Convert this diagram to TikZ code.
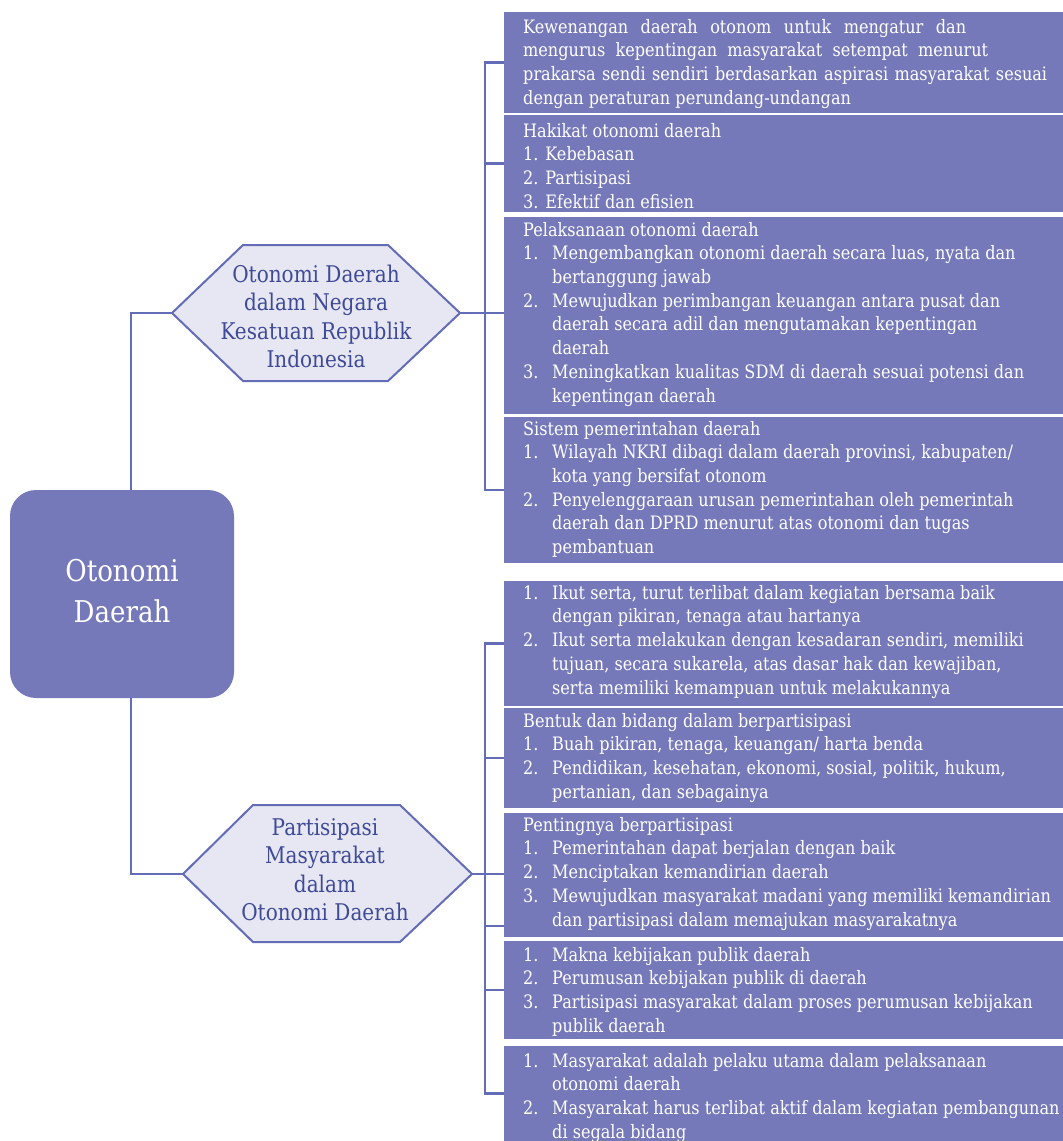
\documentclass[tikz,border=0pt]{standalone}
\usepackage{fontspec}
\setmainfont{DejaVu Serif}[FakeStretch=0.87]
\definecolor{boxblue}{RGB}{118,121,185}
\definecolor{linkblue}{RGB}{99,108,182}
\definecolor{hexfill}{RGB}{231,231,243}
\definecolor{hexink}{RGB}{62,74,150}
\newcommand\numrow[2]{\makebox[29pt][l]{#1}#2}
\newcommand\controw[1]{\hspace*{29pt}#1}
\newcommand\spreadrow[2]{\makebox[#1pt][s]{#2}}
\begin{document}
\begin{tikzpicture}[x=1pt,y=-1pt,
  databox/.style={fill=boxblue, draw=none, inner sep=0pt, outer sep=0pt, anchor=north west, minimum width=559pt},
  boxtext/.style={text=white, inner sep=0pt, anchor=north west, align=left, font=\fontsize{18.5}{23.7}\selectfont},
  link/.style={draw=linkblue, line width=2.2pt},
  hexshape/.style={draw=linkblue, line width=2pt, fill=hexfill, line join=miter},
  hextext/.style={text=hexink, inner sep=0pt, anchor=north, align=center, font=\fontsize{23}{28.5}\selectfont},
  mainbox/.style={fill=boxblue, draw=none, rounded corners=26pt, minimum width=224pt, minimum height=208pt, inner sep=0pt, text=white, align=center, font=\fontsize{30}{41}\selectfont}
]
\useasboundingbox (0,0) rectangle (1063,1141);

% main box
\node[mainbox] (main) at (122,594) {\strut Otonomi\\Daerah\strut};

% hexagons
\coordinate (h1w) at (172,313);
\coordinate (h1e) at (460,313);
\draw[hexshape] (h1w) -- (243,245) -- (388,245) -- (h1e) -- (388,381) -- (243,381) -- cycle;
\node[hextext] (h1) at (316,262) {\strut Otonomi Daerah\\dalam Negara\\Kesatuan Republik\\Indonesia};

\coordinate (h2w) at (183,874);
\coordinate (h2e) at (472,874);
\draw[hexshape] (h2w) -- (253,805) -- (400,805) -- (h2e) -- (400,942) -- (253,942) -- cycle;
\node[hextext] (h2) at (325,815) {\strut Partisipasi\\Masyarakat\\dalam\\Otonomi Daerah};

% boxes
\node[databox, minimum height=101pt] (b1) at (504,12) {};
\node[databox, minimum height=97pt] (b2) at (504,115) {};
\node[databox, minimum height=197pt] (b3) at (504,217) {};
\node[databox, minimum height=146pt] (b4) at (504,417) {};
\node[databox, minimum height=125pt] (b5) at (504,581) {};
\node[databox, minimum height=100pt] (b6) at (504,708) {};
\node[databox, minimum height=124pt] (b7) at (504,813) {};
\node[databox, minimum height=98pt] (b8) at (504,941) {};
\node[databox, minimum height=95pt] (b9) at (504,1046) {};

\node[boxtext] (t1) at (523,16.4) {\strut\spreadrow{443}{Kewenangan daerah otonom untuk mengatur dan}\\
\spreadrow{465}{mengurus kepentingan masyarakat setempat menurut}\\
\spreadrow{524}{prakarsa sendi sendiri berdasarkan aspirasi masyarakat sesuai}\\
dengan peraturan perundang-undangan};

\node[boxtext] (t2) at (523,120.4) {\strut Hakikat otonomi daerah\\
1. Kebebasan\\
2. Partisipasi\\
3. Efektif dan efisien};

\node[boxtext] (t3) at (523,219.4) {\strut Pelaksanaan otonomi daerah\\
\numrow{1.}{Mengembangkan otonomi daerah secara luas, nyata dan}\\
\controw{bertanggung jawab}\\
\numrow{2.}{Mewujudkan perimbangan keuangan antara pusat dan}\\
\controw{daerah secara adil dan mengutamakan kepentingan}\\
\controw{daerah}\\
\numrow{3.}{Meningkatkan kualitas SDM di daerah sesuai potensi dan}\\
\controw{kepentingan daerah}};

\node[boxtext] (t4) at (523,418.4) {\strut Sistem pemerintahan daerah\\
\numrow{1.}{Wilayah NKRI dibagi dalam daerah provinsi, kabupaten/}\\
\controw{kota yang bersifat otonom}\\
\numrow{2.}{Penyelenggaraan urusan pemerintahan oleh pemerintah}\\
\controw{daerah dan DPRD menurut atas otonomi dan tugas}\\
\controw{pembantuan}};

\node[boxtext] (t5) at (523,582.4) {\strut\numrow{1.}{Ikut serta, turut terlibat dalam kegiatan bersama baik}\\
\controw{dengan pikiran, tenaga atau hartanya}\\
\numrow{2.}{Ikut serta melakukan dengan kesadaran sendiri, memiliki}\\
\controw{tujuan, secara sukarela, atas dasar hak dan kewajiban,}\\
\controw{serta memiliki kemampuan untuk melakukannya}};

\node[boxtext] (t6) at (523,710.4) {\strut Bentuk dan bidang dalam berpartisipasi\\
\numrow{1.}{Buah pikiran, tenaga, keuangan/ harta benda}\\
\numrow{2.}{Pendidikan, kesehatan, ekonomi, sosial, politik, hukum,}\\
\controw{pertanian, dan sebagainya}};

\node[boxtext] (t7) at (523,814.4) {\strut Pentingnya berpartisipasi\\
\numrow{1.}{Pemerintahan dapat berjalan dengan baik}\\
\numrow{2.}{Menciptakan kemandirian daerah}\\
\numrow{3.}{Mewujudkan masyarakat madani yang memiliki kemandirian}\\
\controw{dan partisipasi dalam memajukan masyarakatnya}};

\node[boxtext] (t8) at (523,944.4) {\strut\numrow{1.}{Makna kebijakan publik daerah}\\
\numrow{2.}{Perumusan kebijakan publik di daerah}\\
\numrow{3.}{Partisipasi masyarakat dalam proses perumusan kebijakan}\\
\controw{publik daerah}};

\node[boxtext] (t9) at (523,1050.4) {\strut\numrow{1.}{Masyarakat adalah pelaku utama dalam pelaksanaan}\\
\controw{otonomi daerah}\\
\numrow{2.}{Masyarakat harus terlibat aktif dalam kegiatan pembangunan}\\
\controw{di segala bidang}};

% connectors
\coordinate (bus) at (485,0);
\draw[link] ([xshift=9pt]main.north) |- (h1w);
\draw[link] ([xshift=9pt]main.south) |- (h2w);

\draw[link] (b1.west) -- (b1.west -| bus) |- (b4.west);
\draw[link] (b2.west) -- (b2.west -| bus);
\draw[link] (h1e) -- (h1e -| b3.west);

\draw[link] (b5.west) -- (b5.west -| bus) |- (b9.west);
\draw[link] (b6.west) -- (b6.west -| bus);
\draw[link] (h2e) -- (h2e -| b7.west);
\draw[link] ([yshift=-51pt]b7.west) -- ([yshift=-51pt]b7.west -| bus);
\draw[link] (b8.west) -- (b8.west -| bus);
\end{tikzpicture}
\end{document}
